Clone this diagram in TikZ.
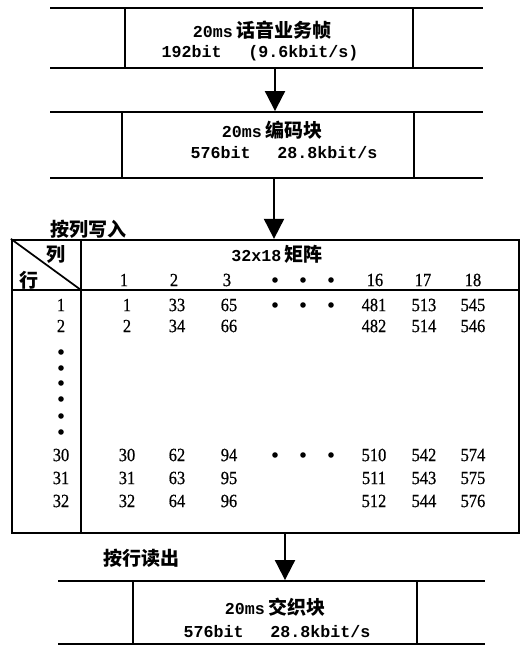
\documentclass[tikz,border=0pt]{standalone}
\usepackage{fontspec}
\setmainfont{Liberation Serif}
\newfontfamily\numf[FakeStretch=0.88,FakeBold=0.6]{Liberation Serif}
\newfontfamily\monof{Liberation Mono}
\newfontfamily\cjkf{Noto Sans CJK SC}
\usetikzlibrary{arrows.meta}
\newcommand{\mtext}[1]{{\monof\bfseries\fontsize{12.5}{14}\selectfont #1}}
\newcommand{\ctext}[1]{{\cjkf\bfseries\fontsize{14.25}{16}\selectfont #1}}
\begin{document}
\begin{tikzpicture}[x=0.75pt,y=-0.75pt,
  lw/.style={line width=1.4pt},
  boxnode/.style={draw,line width=1.4pt,inner sep=0pt},
  txt/.style={inner sep=0pt,anchor=center},
  num/.style={inner sep=0pt,anchor=center,font=\numf\fontsize{14}{16}\selectfont},
  dotmark/.style={circle,fill=black,inner sep=0pt,minimum size=4.2pt},
  arr/.style={line width=1.5pt,-{Triangle[width=15pt,length=15pt]}}]
\useasboundingbox (0,0) rectangle (523,646);
% frame 1
\node[boxnode,minimum width=216pt,minimum height=45pt] (f1) at (269,38) {};
\draw[lw] (50,8) -- (483,8);
\draw[lw] (50,68) -- (483,68);
\node[txt] (f1a) at (262,30) {\mtext{20ms} \ctext{话音业务帧}};
\node[txt] (f1b) at (260,53) {\mtext{192bit\hspace{20pt}(9.6kbit/s)}};
% frame 2
\node[boxnode,minimum width=219pt,minimum height=49.5pt] (f2) at (268,145) {};
\draw[lw] (50,112) -- (483,112);
\draw[lw] (50,178) -- (483,178);
\node[txt] (f2a) at (272,130) {\mtext{20ms} \ctext{编码块}};
\node[txt] (f2b) at (284,153) {\mtext{576bit\hspace{20pt}28.8kbit/s}};
% frame 3
\node[boxnode,minimum width=213pt,minimum height=47.25pt] (f3) at (275,612.5) {};
\draw[lw] (58,581) -- (485,581);
\draw[lw] (58,644) -- (485,644);
\node[txt] (f3a) at (275,607) {\mtext{20ms} \ctext{交织块}};
\node[txt] (f3b) at (277,632) {\mtext{576bit\hspace{20pt}28.8kbit/s}};
% table
\node[draw,line width=1.7pt,inner sep=0pt,minimum width=380.25pt,minimum height=219.75pt] (tbl) at (265.5,386.5) {};
\draw[line width=1.3pt] (81,240) -- (81,533);
\draw[line width=1.3pt] (12,290) -- (519,290);
\draw[line width=1.3pt] (tbl.north west) -- (81,290);
\node[txt] (lie) at (56,254) {\ctext{列}};
\node[txt] (hang) at (29,280) {\ctext{行}};
\node[txt] (title) at (277,254) {\mtext{32x18} \ctext{矩阵}};
\node[txt] (lbl1) at (88,229) {\ctext{按列写入}};
\node[txt] (lbl2) at (141,558) {\ctext{按行读出}};
% header numbers
\foreach \x/\t [count=\i] in {124/1,174/2,227/3,375/16,423/17,473/18}
  \node[num] (h\i) at (\x,280) {\t};
% horizontal dots
\foreach \y/\n in {280/a,305/b,455/c}
  \foreach \x [count=\i] in {275,303,331}
    \node[dotmark] (dot\n\i) at (\x,\y) {};
% vertical dots
\foreach \y [count=\i] in {352,368,383,399,416,432}
  \node[dotmark] (vd\i) at (61,\y) {};
% data rows
\foreach \r/\y/\a/\b/\c/\d/\e/\f in {1/305/1/33/65/481/513/545,2/326/2/34/66/482/514/546,30/455/30/62/94/510/542/574,31/478/31/63/95/511/543/575,32/501/32/64/96/512/544/576}{
  \node[num] (rl\r) at (61,\y) {\r};
  \foreach \x/\v [count=\i] in {127/\a,177/\b,229/\c,374/\d,424/\e,473/\f}
    \node[num] (c\r x\i) at (\x,\y) {\v};
}
% arrows
\coordinate (ax1) at (275,0);
\coordinate (ax2) at (274,0);
\coordinate (ax3) at (285,0);
\draw[arr] (f1.south -| ax1) -- (f2.north -| ax1);
\draw[arr] (f2.south -| ax2) -- (tbl.north -| ax2);
\draw[arr] (tbl.south -| ax3) -- (f3.north -| ax3);
\end{tikzpicture}
\end{document}
